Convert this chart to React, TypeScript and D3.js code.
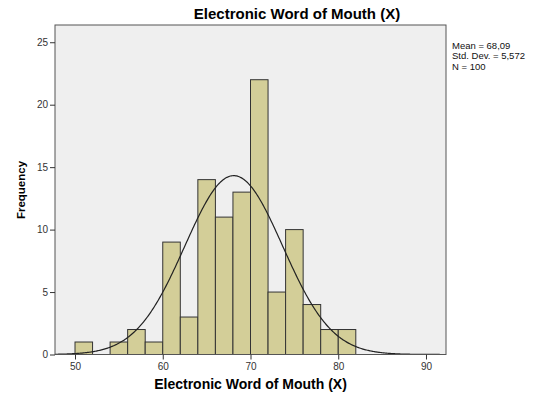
import React, { useEffect, useRef } from "react";
import * as d3 from "d3";

// histogram bins (lower edge) and counts
const binStarts = [50, 52, 54, 56, 58, 60, 62, 64, 66, 68, 70, 72, 74, 76, 78, 80];
const counts = [1, 0, 1, 2, 1, 9, 3, 14, 11, 13, 22, 5, 10, 4, 2, 2];
const binWidth = 2;
const xTicks = [50, 60, 70, 80, 90];
const yTicks = [0, 5, 10, 15, 20, 25];
const mean = 68.09;
const sd = 5.572;
const n = 100;
const statLines = ["Mean = 68,09", "Std. Dev. = 5,572", "N = 100"];

const App = () => {
  const svgRef = useRef<SVGSVGElement>(null);

  useEffect(() => {
    const svg = d3.select(svgRef.current);
    const left = 55, top = 25, right = 446, bottom = 354.5;
    const font = "Arial, 'Liberation Sans', sans-serif";

    const x = d3.scaleLinear().domain([47.72, 92.28]).range([left, right]);
    const y = d3.scaleLinear().domain([0, 26.38]).range([bottom, top]);

    // plot background
    svg.append("rect")
      .attr("x", left).attr("y", top)
      .attr("width", right - left).attr("height", bottom - top)
      .attr("fill", "#efefef");

    // bars
    svg.append("g").selectAll("rect")
      .data(binStarts.map((b, i) => ({ b, c: counts[i] })).filter((d) => d.c > 0))
      .enter()
      .append("rect")
      .attr("x", (d) => x(d.b))
      .attr("y", (d) => y(d.c))
      .attr("width", (d) => x(d.b + binWidth) - x(d.b))
      .attr("height", (d) => y(0) - y(d.c))
      .attr("fill", "#d3ce98")
      .attr("stroke", "#333")
      .attr("stroke-width", 1);

    // normal curve
    const pts = d3.range(47.72, 92.28, 0.1).map((v) => {
      const z = (v - mean) / sd;
      return [v, (n * binWidth * Math.exp(-0.5 * z * z)) / (sd * Math.sqrt(2 * Math.PI))];
    });
    svg.append("path")
      .datum(pts)
      .attr("fill", "none")
      .attr("stroke", "#222")
      .attr("stroke-width", 1.2)
      .attr("d", d3.line<number[]>().x((d) => x(d[0])).y((d) => y(d[1])));

    // frame
    svg.append("rect")
      .attr("x", left).attr("y", top)
      .attr("width", right - left).attr("height", bottom - top)
      .attr("fill", "none").attr("stroke", "#555").attr("stroke-width", 1);

    // axes
    const yAxis = svg.append("g")
      .attr("transform", `translate(${left},0)`)
      .call(d3.axisLeft(y).tickValues(yTicks).tickSize(5).tickPadding(2));
    const xAxis = svg.append("g")
      .attr("transform", `translate(0,${bottom})`)
      .call(d3.axisBottom(x).tickValues(xTicks).tickSize(5).tickPadding(3));
    [yAxis, xAxis].forEach((a) => {
      a.select(".domain").remove();
      a.selectAll("line").attr("stroke", "#333");
      a.selectAll("text").attr("font-family", font)
        .attr("font-size", 10).attr("fill", "#333");
    });

    // titles
    svg.append("text")
      .attr("x", 297).attr("y", 19).attr("text-anchor", "middle")
      .attr("font-family", font)
      .attr("font-weight", "bold").attr("font-size", 15)
      .text("Electronic Word of Mouth (X)");
    svg.append("text")
      .attr("x", 250.5).attr("y", 389).attr("text-anchor", "middle")
      .attr("font-family", font)
      .attr("font-weight", "bold").attr("font-size", 14)
      .text("Electronic Word of Mouth (X)");
    svg.append("text")
      .attr("transform", "translate(25,190) rotate(-90)")
      .attr("text-anchor", "middle")
      .attr("font-family", font)
      .attr("font-weight", "bold").attr("font-size", 11.5)
      .text("Frequency");

    // stats box
    svg.append("g").selectAll("text")
      .data(statLines)
      .enter()
      .append("text")
      .attr("x", 452)
      .attr("y", (_, i) => 48.5 + i * 10.8)
      .attr("font-family", font)
      .attr("font-size", 9.5).attr("fill", "#111")
      .text((d) => d);

    return () => {
      svg.selectAll("*").remove();
    };
  }, []);

  return (
    <svg ref={svgRef} width={537} height={394}
      style={{ position: "absolute", left: 0, top: 0, background: "#fff" }} />
  );
};

export default App;
